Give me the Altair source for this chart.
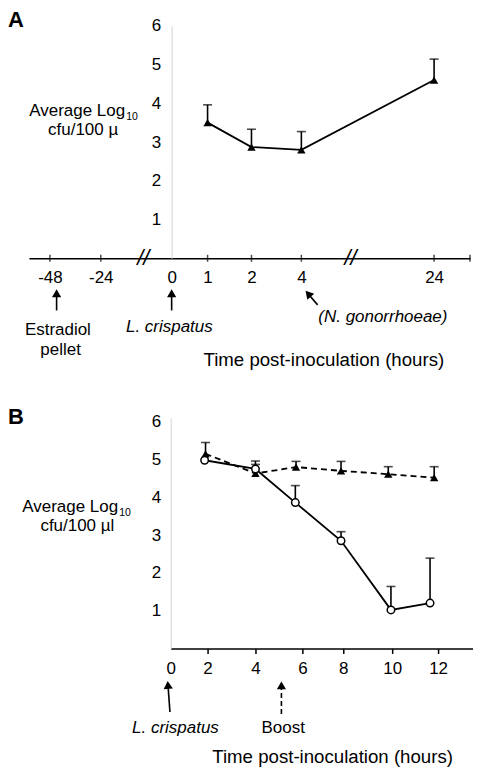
import altair as alt
import pandas as pd

FONT = "Liberation Sans"

# ---------------- Panel A data ----------------
a_time = [1, 2, 4, 24]
a_mean = [3.5, 2.87, 2.8, 4.6]
a_err = [0.46, 0.46, 0.47, 0.54]
a_tick_values = [-48, -24, 0, 1, 2, 4, 24]
a_minor_ticks = [-48, -24, 1, 2, 4, 24, 32]
a_breaks = [-9.6, 11.4]

# ---------------- Panel B data ----------------
b_tri_time = [1.89, 4.0, 5.73, 7.89, 9.84, 11.83]
b_tri_mean = [5.15, 4.63, 4.8, 4.7, 4.61, 4.52]
b_tri_err = [0.3, 0.33, 0.15, 0.25, 0.2, 0.29]
b_circ_time = [1.84, 4.0, 5.7, 7.89, 9.95, 11.65]
b_circ_mean = [4.98, 4.75, 3.86, 2.85, 1.02, 1.2]
b_circ_err = [0.0, 0.12, 0.45, 0.24, 0.62, 1.19]
b_tick_values = [0, 2, 4, 6, 8, 10, 12]
y_tick_values = [1, 2, 3, 4, 5, 6]

FS = 17
# ---------------- scales ----------------
A_W, A_H = 465, 248
B_W, B_H = 466, 231

ax_scale = alt.Scale(domain=[-58, -48, -24, 0, 1, 2, 4, 24, 32],
                     range=[21, 42, 93, 164, 200, 244, 294, 427, 463],
                     nice=False, zero=False)
ay_scale = alt.Scale(domain=[0, 6], range=[A_H, 15], nice=False, zero=False)
bx_scale = alt.Scale(domain=[0, 2, 4, 6, 8, 10, 12, 13.5],
                     range=[163, 200, 248, 295, 336, 385, 431, 466],
                     nice=False, zero=False)
by_scale = alt.Scale(domain=[0, 6.1], nice=False, zero=False)


def yaxis(off, pad):
    return alt.Axis(values=y_tick_values, title=None, offset=off, ticks=False,
                    tickSize=0, labelPadding=pad, domainColor="#d4d4d4",
                    domainWidth=1, grid=False, labelFontSize=FS, labelFont=FONT,
                    labelColor="black", format="d")


ax_axis = alt.Axis(values=a_tick_values, title=None, ticks=False, tickSize=0,
                   labelPadding=11, domainColor="black", domainWidth=1.6,
                   grid=False, labelFontSize=FS, labelFont=FONT,
                   labelColor="black", labelExpr="'' + datum.value",
                   labelFlush=False, labelOverlap=False)
bx_axis = alt.Axis(values=b_tick_values, title=None, ticks=True, tickSize=5,
                   tickWidth=1.5, tickColor="black",
                   tickOpacity={"condition": {"test": "datum.value == 0", "value": 0}, "value": 1},
                   labelPadding=7, domainColor="black", domainWidth=1.6,
                   grid=False, labelFontSize=FS, labelFont=FONT,
                   labelColor="black", labelExpr="'' + datum.value",
                   labelFlush=False, labelOverlap=False)

AX = alt.X("t:Q", scale=ax_scale, axis=ax_axis)
BX = alt.X("t:Q", scale=bx_scale, axis=bx_axis)


def AY(field):
    return alt.Y(field, scale=ay_scale, axis=yaxis(-164, 11))


def BY(field):
    return alt.Y(field, scale=by_scale, axis=yaxis(-163, 10))


def textmark(txt, x, y, size=FS, style="normal", weight="normal", align="center"):
    return alt.Chart(pd.DataFrame({"s": [txt]})).mark_text(
        font=FONT, fontSize=size, fontStyle=style, fontWeight=weight,
        align=align, baseline="alphabetic", color="black"
    ).encode(x=alt.value(x), y=alt.value(y), text="s:N")


def arrow(x1, y1, x2, y2, hx, hy, angle=0, dash=None):
    rule_kw = dict(color="black", strokeWidth=1.6)
    if dash:
        rule_kw["strokeDash"] = dash
    shaft = alt.Chart(pd.DataFrame({"a": [0]})).mark_rule(**rule_kw).encode(
        x=alt.value(x1), x2=alt.value(x2), y=alt.value(y1), y2=alt.value(y2))
    head = alt.Chart(pd.DataFrame({"a": [0]})).mark_point(
        shape="triangle-up", filled=True, color="black", size=85, angle=angle,
        opacity=1).encode(x=alt.value(hx), y=alt.value(hy))
    return [shaft, head]


# ---------------- Panel A ----------------
dfA = pd.DataFrame({"t": a_time, "m": a_mean, "e": a_err})
dfA["top"] = dfA["m"] + dfA["e"]
baseA = alt.Chart(dfA)

a_line = baseA.mark_line(color="black", strokeWidth=1.8).encode(x=AX, y=AY("m:Q"))
a_err_rule = baseA.mark_rule(color="black", strokeWidth=1.6).encode(x=AX, y=AY("m:Q"), y2="top:Q")
a_cap = baseA.mark_tick(orient="horizontal", size=9, thickness=1.6, color="black").encode(x=AX, y=AY("top:Q"))
a_pts = baseA.mark_point(shape="triangle-up", filled=True, color="black", size=70, opacity=1).encode(x=AX, y=AY("m:Q"))

a_ticks = alt.Chart(pd.DataFrame({"t": a_minor_ticks, "m": [0] * len(a_minor_ticks)})).mark_tick(
    orient="vertical", size=7, thickness=1.5, color="black").encode(x=AX, y=AY("m:Q"))
a_brk = alt.Chart(pd.DataFrame({"t": a_breaks, "m": [0, 0], "s": ["//", "//"]})).mark_text(
    font=FONT, fontSize=22, fontStyle="italic", baseline="middle", align="center", color="black"
).encode(x=AX, y=AY("m:Q"), text="s:N")

a_layers = [a_err_rule, a_cap, a_line, a_pts, a_ticks, a_brk,
            textmark("A", 0, 16.5, size=22, weight="bold", align="left"),
            textmark("Average Log", 21.3, 105.3, align="left"),
            textmark("10", 118.5, 109.5, size=10.5, align="left"),
            textmark("cfu/100 µ", 75.3, 124.5),
            textmark("Estradiol", 50, 325.3),
            textmark("pellet", 52.7, 345),
            textmark("L. crispatus", 161.7, 321.5, style="italic"),
            textmark("(N. gonorrhoeae)", 375.7, 312, style="italic"),
            textmark("Time post-inoculation (hours)", 316.5, 355.5, size=18.7)]
a_layers += arrow(48.7, 300.3, 48.7, 285, 48.7, 283)
a_layers += arrow(164, 300.3, 164, 285, 164, 283)
a_layers += arrow(310.3, 294.7, 302, 285, 300.8, 283.5, angle=319)

panelA = alt.layer(*a_layers).properties(width=A_W, height=A_H)

# ---------------- Panel B ----------------
dfT = pd.DataFrame({"t": b_tri_time, "m": b_tri_mean, "e": b_tri_err})
dfT["top"] = dfT["m"] + dfT["e"]
dfC = pd.DataFrame({"t": b_circ_time, "m": b_circ_mean, "e": b_circ_err})
dfC["top"] = dfC["m"] + dfC["e"]
dfCe = dfC[dfC["e"] > 0]

t_err = alt.Chart(dfT).mark_rule(color="black", strokeWidth=1.6).encode(x=BX, y=BY("m:Q"), y2="top:Q")
t_cap = alt.Chart(dfT).mark_tick(orient="horizontal", size=9, thickness=1.6, color="black").encode(x=BX, y=BY("top:Q"))
t_line = alt.Chart(dfT).mark_line(color="black", strokeWidth=1.8, strokeDash=[6, 4]).encode(x=BX, y=BY("m:Q"))
t_pts = alt.Chart(dfT).mark_point(shape="triangle-up", filled=True, color="black", size=70, opacity=1).encode(x=BX, y=BY("m:Q"))

c_err = alt.Chart(dfCe).mark_rule(color="black", strokeWidth=1.6).encode(x=BX, y=BY("m:Q"), y2="top:Q")
c_cap = alt.Chart(dfCe).mark_tick(orient="horizontal", size=9, thickness=1.6, color="black").encode(x=BX, y=BY("top:Q"))
c_line = alt.Chart(dfC).mark_line(color="black", strokeWidth=1.8).encode(x=BX, y=BY("m:Q"))
c_pts = alt.Chart(dfC).mark_point(shape="circle", filled=True, fill="white", stroke="black",
                                  strokeWidth=1.5, size=56, opacity=1).encode(x=BX, y=BY("m:Q"))

b_layers = [t_err, t_cap, t_line, t_pts, c_err, c_cap, c_line, c_pts,
            textmark("B", 0, 6, size=22, weight="bold", align="left"),
            textmark("Average Log", 14.3, 94, align="left"),
            textmark("10", 111.5, 98.2, size=10.5, align="left"),
            textmark("cfu/100 µl", 69.5, 113.3),
            textmark("L. crispatus", 167.8, 315.5, style="italic"),
            textmark("Boost", 275.8, 316.2),
            textmark("Time post-inoculation (hours)", 325.3, 346, size=18.7)]
b_layers += arrow(162.3, 294.7, 160.5, 270, 160.3, 267.5, angle=356)
b_layers += arrow(274, 296.7, 274, 271, 274, 268, dash=[5, 3])

panelB = alt.layer(*b_layers).properties(width=B_W, height=B_H)

chart = alt.vconcat(panelA, panelB, spacing=160, bounds="flush").properties(
    padding={"left": 0, "top": 0, "right": 0, "bottom": 0}
).configure_view(stroke=None)

chart.save("out.html", embed_options={"renderer": "svg", "actions": False})
